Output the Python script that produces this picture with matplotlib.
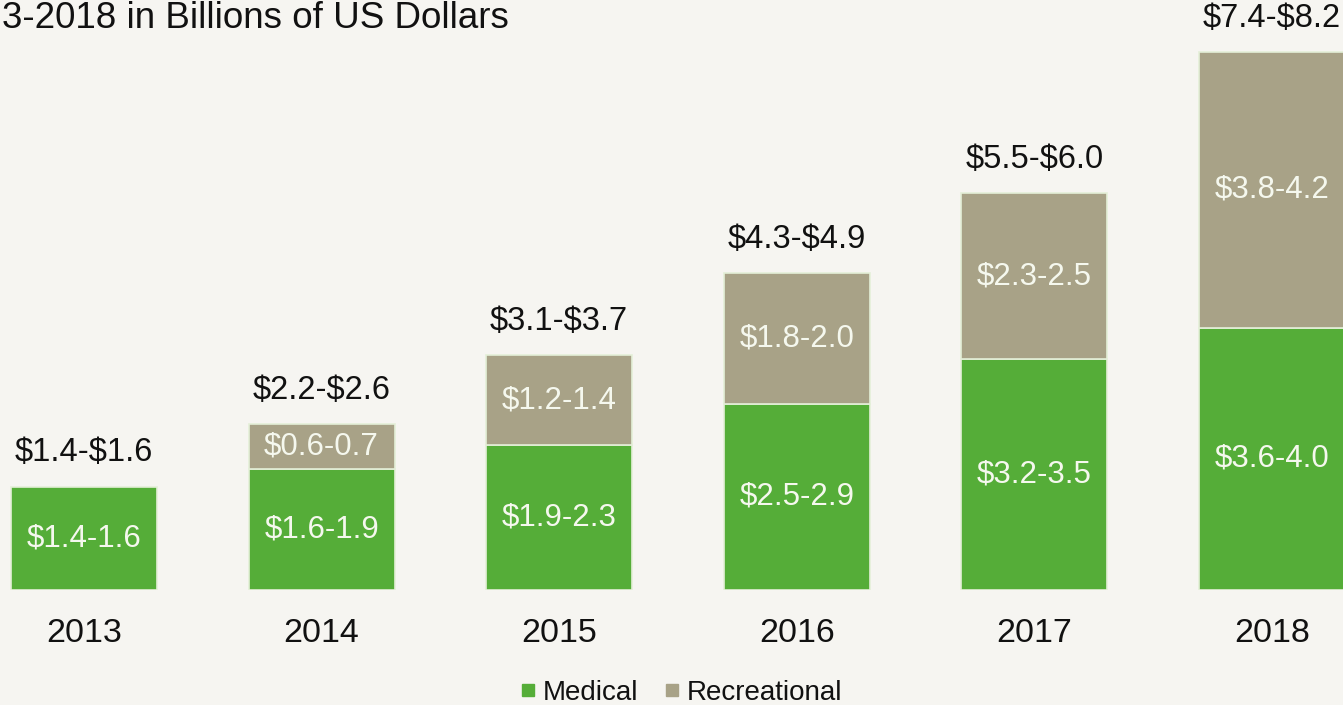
import matplotlib
matplotlib.use("Agg")
import matplotlib.pyplot as plt
from matplotlib.lines import Line2D

plt.rcParams['font.family'] = ['Liberation Sans', 'DejaVu Sans']
plt.rcParams['text.parse_math'] = False

years = ["2013", "2014", "2015", "2016", "2017", "2018"]
medical = [1.5, 1.75, 2.1, 2.7, 3.35, 3.8]
recreational = [0.0, 0.65, 1.3, 1.9, 2.4, 4.0]
medical_labels = ["$1.4-1.6", "$1.6-1.9", "$1.9-2.3", "$2.5-2.9", "$3.2-3.5", "$3.6-4.0"]
recreational_labels = ["", "$0.6-0.7", "$1.2-1.4", "$1.8-2.0", "$2.3-2.5", "$3.8-4.2"]
total_labels = ["$1.4-$1.6", "$2.2-$2.6", "$3.1-$3.7", "$4.3-$4.9", "$5.5-$6.0", "$7.4-$8.2"]
title_text = "3-2018 in Billions of US Dollars"

GREEN = "#55ad38"
GRAY = "#a8a287"
BG = "#f6f5f1"
EDGE = "#e4efd8"
INNER = "#f5f8ee"

W, H = 1343, 705
fig = plt.figure(figsize=(W / 100, H / 100), dpi=100, facecolor=BG)
ax = fig.add_axes([0, 115 / H, 1, 590 / H])
ax.set_facecolor(BG)

x = list(range(len(years)))
width = 0.615
ax.bar(x, medical, width=width, color=GREEN, edgecolor=EDGE, linewidth=1.2)
rec_x = [xi for xi, r in zip(x, recreational) if r > 0]
rec_v = [r for r in recreational if r > 0]
rec_b = [m for m, r in zip(medical, recreational) if r > 0]
ax.bar(rec_x, rec_v, bottom=rec_b, width=width, color=GRAY, edgecolor=EDGE, linewidth=1.2)

fs_in = 22.5
fs_out = 23.5
for xi, m, r, ml, rl, tl in zip(x, medical, recreational, medical_labels,
                                recreational_labels, total_labels):
    ax.text(xi, m / 2, ml, ha='center', va='center', color=INNER, fontsize=fs_in)
    if r > 0:
        ax.text(xi, m + r / 2, rl, ha='center', va='center', color=INNER, fontsize=fs_in)
    ax.annotate(tl, (xi, m + r), xytext=(0, 18), textcoords='offset points',
                ha='center', va='baseline', color='#111111', fontsize=fs_out)

ax.set_xlim(-84 / 237.6, (W - 84) / 237.6)
ax.set_ylim(0, 590 / 69)
ax.set_xticks(x)
ax.set_xticklabels(years, fontsize=24.5, color='#111111')
ax.tick_params(axis='x', length=0, pad=20)
ax.set_yticks([])
for s in ax.spines.values():
    s.set_visible(False)

fig.text(2 / W, 1 - 1 / H, title_text, ha='left', va='top', fontsize=26.5, color='#111111')

handles = [Line2D([], [], marker='s', linestyle='none', markersize=8, color=GREEN),
           Line2D([], [], marker='s', linestyle='none', markersize=8, color=GRAY)]
fig.legend(handles, ["Medical", "Recreational"], loc='center',
           bbox_to_anchor=(681 / W, 1 - 693 / H), ncol=2, frameon=False,
           fontsize=20, handlelength=0.6, handletextpad=0.25, columnspacing=0.9,
           labelcolor='#111111')

fig.savefig("out.png", dpi=100, facecolor=BG)
